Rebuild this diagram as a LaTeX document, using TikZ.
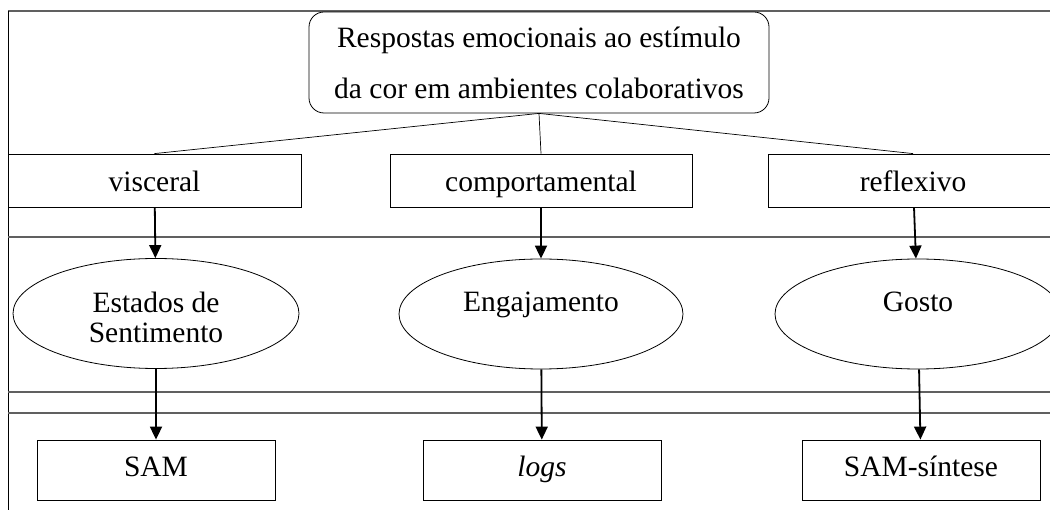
\documentclass[tikz,border=0pt]{standalone}
\usepackage{fontspec}
\setmainfont{Liberation Serif}
\usetikzlibrary{shapes,arrows.meta}
\tikzstyle{title} = [rectangle, draw, rounded corners=15pt, minimum width=460pt,
    minimum height=101pt, align=center, inner sep=0pt, text height=73pt, text depth=0pt,
    font=\fontsize{29.5}{51}\selectfont]
\tikzstyle{level} = [rectangle, draw, minimum height=53pt, inner sep=0pt,
    text height=23pt, text depth=0pt]
\tikzstyle{response} = [ellipse, draw, minimum width=286pt, minimum height=110pt,
    inner sep=0pt, align=center, text height=19pt, text depth=23pt]
\tikzstyle{measure} = [rectangle, draw, minimum width=238pt, minimum height=60pt, inner sep=0pt,
    text height=20pt, text depth=6pt]
\tikzstyle{line} = [draw, line width=1.8pt, -{Triangle[length=13pt,width=12pt]}]
\tikzstyle{tie} = [draw, line width=0.7pt]
\tikzstyle{rule} = [draw, gray!75!black, line width=1.3pt]

\begin{document}
\begin{tikzpicture}[x=1pt, y=-1pt, font=\fontsize{29.5}{30}\selectfont, line width=0.8pt]
  \clip (0,0) rectangle (1050,510);
  % frame and bands
  \path [rule] (8,11) -- (1050,11);
  \path [draw, line width=1pt] (8,11) -- (8,510);
  \path [rule] (8,237) -- (1050,237);
  \path [rule] (8,392) -- (1050,392);
  \path [rule] (8,413) -- (1050,413);
  % nodes
  \node [title] (top) at (539,62.5) {Respostas emocionais ao estímulo\\da cor em ambientes colaborativos};
  \node [level, minimum width=293pt] (visceral) at (154.5,180.5) {visceral};
  \node [level, minimum width=302pt] (behave) at (541,180.5) {comportamental};
  \node [level, minimum width=290pt] (reflect) at (913,180.5) {reflexivo};
  \node [response, text height=59pt, text depth=0pt] (feeling) at (156,313.5) {Estados de\\Sentimento};
  \node [response, minimum width=284pt] (engage) at (541,314) {Engajamento};
  \node [response] (liking) at (918,314) {Gosto};
  \node [measure] (sam) at (156,470) {SAM};
  \node [measure] (logs) at (542,470) {\textit{logs}};
  \node [measure] (synth) at (921,470) {SAM-síntese};
  % connectors
  \path [tie] (top.south) -- (visceral.north);
  \path [tie] (top.south) -- (behave.north);
  \path [tie] (top.south) -- (reflect.north);
  \path [line] (visceral) -- (feeling);
  \path [line] (behave) -- (engage);
  \path [line] (reflect) -- (liking);
  \path [line] (feeling) -- (sam);
  \path [line] (engage) -- (logs);
  \path [line] (liking) -- (synth);
\end{tikzpicture}
\end{document}
